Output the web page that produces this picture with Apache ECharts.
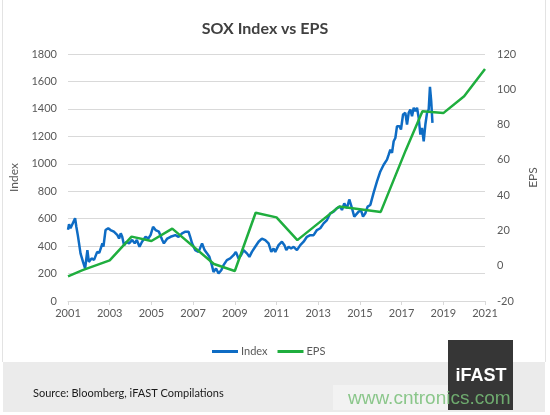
<!DOCTYPE html>
<html>
<head>
<meta charset="utf-8">
<script src="https://cdn.jsdelivr.net/npm/echarts@6/dist/echarts.min.js"></script>
<style>
html,body{margin:0;padding:0;background:#fff;}
#chart{width:550px;height:415px;}
</style>
</head>
<body>
<div id="chart"></div>
<script>
// ---- Data ----
const xTickLabels = ['2001','2003','2005','2007','2009','2011','2013','2015','2017','2019','2021'];
const baseYear = 2001;

const indexYears = [
  2001.00,2001.05,2001.12,2001.20,2001.27,2001.34,2001.40,2001.47,2001.53,2001.60,2001.72,2001.82,2001.93,
  2002.00,2002.13,2002.25,2002.40,2002.50,2002.65,2002.70,2002.80,2002.93,
  2003.04,2003.20,2003.37,2003.45,2003.53,2003.60,2003.69,2003.80,2003.93,
  2004.08,2004.20,2004.30,2004.43,2004.55,2004.72,2004.85,2004.96,
  2005.08,2005.20,2005.36,2005.52,2005.60,2005.76,2005.92,
  2006.15,2006.30,2006.47,2006.63,2006.78,2006.86,2006.95,
  2007.10,2007.26,2007.43,2007.55,2007.67,2007.78,2007.90,2007.98,
  2008.10,2008.22,2008.35,2008.46,2008.62,2008.78,2008.94,
  2009.05,2009.18,2009.30,2009.42,2009.58,2009.70,2009.82,2009.98,
  2010.14,2010.30,2010.46,2010.62,2010.75,2010.86,2010.94,
  2011.10,2011.26,2011.38,2011.47,2011.58,2011.70,2011.82,2011.98,
  2012.14,2012.30,2012.46,2012.62,2012.78,2012.94,
  2013.10,2013.26,2013.42,2013.58,2013.74,2013.90,
  2014.06,2014.14,2014.25,2014.38,2014.49,2014.62,2014.73,2014.82,2014.94,
  2015.05,2015.15,2015.26,2015.37,2015.50,2015.66,2015.82,2015.98,
  2016.14,2016.30,2016.38,2016.46,2016.54,2016.62,2016.70,2016.78,2016.90,2016.97,
  2017.07,2017.18,2017.26,2017.34,2017.42,2017.50,2017.58,2017.66,2017.74,2017.82,2017.90,2017.98,
  2018.06,2018.14,2018.22,2018.30,2018.36,2018.42,2018.48
];
const indexValues = [
  520,560,530,517,580,603,541,480,420,347,285,237,371,
  285,310,300,358,350,420,397,517,530,
  517,505,480,455,493,468,405,430,420,
  445,420,445,395,432,468,455,480,
  541,517,505,445,420,455,468,
  480,468,493,505,505,468,420,
  371,358,420,371,347,322,261,212,
  237,200,224,261,298,310,334,
  358,310,334,371,347,322,358,395,
  432,455,444,420,358,383,358,
  407,432,407,371,395,383,395,371,
  407,432,468,480,480,517,
  530,566,590,639,651,676,
  688,663,712,676,740,676,615,602,651,
  663,615,639,688,700,790,871,944,
  993,1030,1066,1103,1079,1164,1188,1274,1274,1250,
  1359,1371,1286,1371,1396,1347,1408,1384,1408,1335,1213,1262,
  1164,1286,1371,1396,1560,1457,1298
];

const epsYears  = [2001, 2001.7, 2003, 2004.05, 2005, 2006, 2008, 2009, 2010, 2011, 2012, 2014, 2016, 2017.2, 2018, 2019, 2020, 2021];
const epsValues = [-6,   -2.5,   3,    16.5,    14,   21,   1,    -3,   30,   27.4, 14.5, 33.5, 30.5, 65.5,   87.5, 86.5, 96,   111.5];

// ---- Build series data ----
const indexData = indexYears.map((y, i) => [y - baseYear, indexValues[i]]);
const epsData = epsYears.map((y, i) => [y - baseYear, epsValues[i]]);

const FONT = 'Lato, "Noto Sans", sans-serif';
const chart = echarts.init(document.getElementById('chart'), null, {renderer: 'canvas'});

chart.setOption({
  backgroundColor: '#ffffff',
  animation: false,
  title: {
    text: 'SOX Index vs EPS',
    left: 260, top: 16, textAlign: 'center',
    textStyle: {fontFamily: FONT, fontSize: 16, fontWeight: 'bold', color: '#404040'}
  },
  grid: {left: 68, right: 65, top: 54, bottom: 114, containLabel: false},
  legend: {
    left: 207, top: 341,
    itemWidth: 26, itemHeight: 3, itemGap: 10,
    icon: 'rect',
    textStyle: {fontFamily: FONT, fontSize: 11, color: '#595959', padding: [0,0,0,-2]},
    data: ['Index', 'EPS']
  },
  xAxis: {
    type: 'value', min: 0, max: 20, interval: 2,
    axisLine: {show: true, lineStyle: {color: '#d9d9d9', width: 1}},
    axisTick: {show: true, length: 4, lineStyle: {color: '#d9d9d9'}},
    axisLabel: {
      fontFamily: FONT, fontSize: 11, color: '#595959', margin: 7,
      formatter: v => xTickLabels[Math.round(v / 2)]
    },
    splitLine: {show: false}
  },
  yAxis: [
    {
      type: 'value', min: 0, max: 1800, interval: 200,
      name: 'Index', nameLocation: 'middle', nameGap: 42, nameRotate: 90,
      nameTextStyle: {fontFamily: FONT, fontSize: 12, color: '#595959'},
      axisLine: {show: false}, axisTick: {show: false},
      axisLabel: {fontFamily: FONT, fontSize: 11, color: '#595959', margin: 11, formatter: v => String(v)},
      splitLine: {show: true, lineStyle: {color: '#d9d9d9', width: 1}}
    },
    {
      type: 'value', min: -20, max: 120, interval: 20, position: 'right',
      name: 'EPS', nameLocation: 'middle', nameGap: 38, nameRotate: 90,
      nameTextStyle: {fontFamily: FONT, fontSize: 12, color: '#595959'},
      axisLine: {show: false}, axisTick: {show: false},
      axisLabel: {fontFamily: FONT, fontSize: 11, color: '#595959', margin: 12, formatter: v => String(v)},
      splitLine: {show: false}
    }
  ],
  series: [
    {
      name: 'Index', type: 'line', yAxisIndex: 0, data: indexData,
      showSymbol: false, symbol: 'none', z: 2,
      lineStyle: {color: '#0e6cc4', width: 2.5},
      itemStyle: {color: '#0e6cc4'}
    },
    {
      name: 'EPS', type: 'line', yAxisIndex: 1, data: epsData,
      showSymbol: false, symbol: 'none', z: 3,
      lineStyle: {color: '#1fae3e', width: 2.5},
      itemStyle: {color: '#1fae3e'}
    }
  ],
  graphic: [
    {type: 'line', shape: {x1: 2.5, y1: 0, x2: 2.5, y2: 362}, style: {stroke: '#e3e3e3', lineWidth: 1}, z: -1},
    {type: 'line', shape: {x1: 545.5, y1: 0, x2: 545.5, y2: 362}, style: {stroke: '#e3e3e3', lineWidth: 1}, z: -1},
    {type: 'rect', shape: {x: 3, y: 362, width: 542, height: 50}, style: {fill: '#ebebeb'}, z: -1},
    {type: 'text', x: 33, y: 393, style: {text: 'Source: Bloomberg, iFAST Compilations', fontFamily: FONT, fontSize: 11, fill: '#1a1a1a', textVerticalAlign: 'middle'}},
    {type: 'rect', shape: {x: 448, y: 340, width: 65, height: 70}, style: {fill: '#363636'}, z: 10},
    {type: 'text', x: 481, y: 376, style: {text: 'iFAST', fontFamily: '"Liberation Sans", Arial, sans-serif', fontWeight: 'bold', fontSize: 18, fill: '#ffffff', textAlign: 'center', textVerticalAlign: 'middle'}, z: 11},
    {type: 'rect', shape: {x: 333, y: 385, width: 115, height: 25}, style: {fill: 'rgba(255,255,255,0.35)'}, z: 9},
    {type: 'text', x: 348, y: 399, style: {text: 'www.cntronics.com', fontFamily: '"Liberation Sans", Arial, sans-serif', fontSize: 19, fill: 'rgba(120,190,120,0.85)', textVerticalAlign: 'middle'}, z: 12}
  ]
});
</script>
</body>
</html>
